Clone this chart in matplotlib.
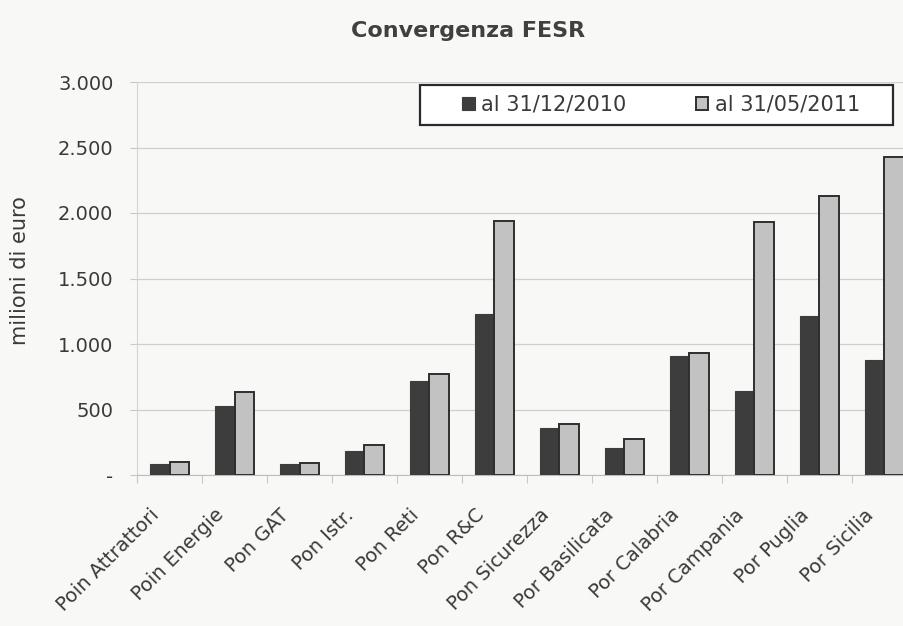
import numpy as np
import matplotlib.pyplot as plt
import matplotlib.transforms as mtransforms
from matplotlib.patches import Rectangle
from matplotlib.ticker import FuncFormatter

# values (milioni di euro)
programmi = ["Poin Attrattori", "Poin Energie", "Pon GAT", "Pon Istr.", "Pon Reti",
             "Pon R&C", "Pon Sicurezza", "Por Basilicata", "Por Calabria",
             "Por Campania", "Por Puglia", "Por Sicilia"]
al_2010 = [85, 527, 84, 183, 717, 1229, 359, 206, 908, 641, 1214, 878]
al_2011 = [100, 633, 92, 229, 771, 1939, 389, 275, 931, 1931, 2130, 2427]
y_ticks = [0, 500, 1000, 1500, 2000, 2500, 3000]

plt.rcParams['font.family'] = 'DejaVu Sans'
text_col = "#3a3a3a"
bg = "#f8f8f6"

fig = plt.figure(figsize=(9.04, 6.26), dpi=100, facecolor=bg)
# plot area is wider than the picture, the last category is cut at the right edge
ax = fig.add_axes([137 / 904, 151 / 626, 780 / 904, 393 / 626])
ax.set_facecolor(bg)

x = np.arange(len(programmi))
w = 0.3
ax.bar(x - w / 2, al_2010, w, color="#3d3d3d", edgecolor="#3d3d3d", linewidth=0.8,
       label="al 31/12/2010", zorder=3)
ax.bar(x + w / 2, al_2011, w, color="#c2c2c2", edgecolor="#2e2e2e", linewidth=1.4,
       label="al 31/05/2011", zorder=3)

ax.set_xlim(-0.5, len(programmi) - 0.5)
ax.set_ylim(0, 3000)
ax.set_yticks(y_ticks)
ax.yaxis.set_major_formatter(FuncFormatter(
    lambda v, p: "-" if v == 0 else f"{int(v):,}".replace(",", ".")))
ax.tick_params(axis="y", labelsize=14, colors="#c8c8c8", labelcolor=text_col,
               length=5, pad=12)
ax.grid(axis="y", color="#cfcfcf", linewidth=0.9, zorder=0)

ax.set_xticks(np.arange(len(programmi) + 1) - 0.5, minor=False)
ax.set_xticklabels([])
ax.set_xticks(x, minor=True)
ax.set_xticklabels(programmi, minor=True, rotation=45, ha="right", va="top",
                   rotation_mode="anchor", fontsize=14, color=text_col)
ax.tick_params(axis="x", which="major", length=6, colors="#c8c8c8")
ax.tick_params(axis="x", which="minor", length=0, pad=14)
shift = mtransforms.ScaledTranslation(-0.2, -0.11, fig.dpi_scale_trans)
for lab in ax.get_xticklabels(minor=True):
    lab.set_transform(lab.get_transform() + shift)

for s in ["top", "right"]:
    ax.spines[s].set_visible(False)
ax.spines["left"].set_color("#d4d4d4")
ax.spines["bottom"].set_color("#bdbdbd")

ax.set_ylabel("milioni di euro", fontsize=15, color=text_col)
ax.yaxis.set_label_coords(-0.137, 0.52)

# legend box drawn by hand, entries spread inside it
ax.add_patch(Rectangle((0.3628, 0.8906), 0.6064, 0.1018, transform=ax.transAxes,
                       facecolor="white", edgecolor="#2a2a2a", linewidth=1.6,
                       zorder=4, clip_on=False))
leg = ax.legend(loc="center left", bbox_to_anchor=(0.4167, 0.8906, 0.51, 0.1018),
                mode="expand", ncol=2, fontsize=15, frameon=False,
                handlelength=0.6, handleheight=0.6, handletextpad=0.3,
                borderaxespad=0, borderpad=0, labelcolor=text_col)
leg.set_zorder(5)

fig.text(468 / 904, 1 - 31 / 626, "Convergenza FESR", ha="center", va="center",
         fontsize=16, fontweight="bold", color="#404040")

fig.savefig("out.png", dpi=100, facecolor=bg)
